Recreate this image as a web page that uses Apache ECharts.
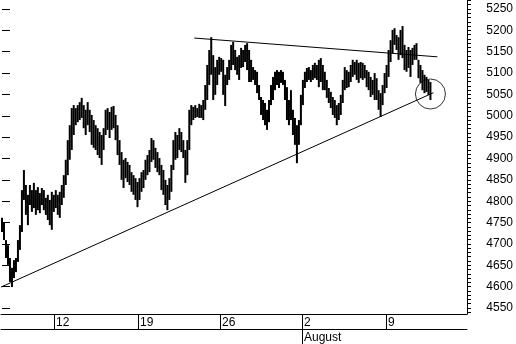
<!DOCTYPE html>
<html><head><meta charset="utf-8">
<script src="https://cdn.jsdelivr.net/npm/echarts@6/dist/echarts.min.js"></script>
<style>html,body{margin:0;padding:0;background:#fff}#c{width:516px;height:344px}</style>
</head><body><div id="c"></div>
<script>
// Price bars: high and low of each intraday period
const highs = [
4761,4751,4709,4697,4667,4644,4662,4667,4709,4744,
4826,4873,4838,4815,4838,4826,4843,4826,4833,4819,
4831,4826,4808,4815,4803,4822,4815,4826,4815,4822,
4838,4861,4897,4943,4978,5018,5025,5018,5025,5032,
5042,5025,5014,5032,5014,5002,4990,4978,4971,4962,
4955,4971,5014,5018,5009,5021,5023,5002,4978,4943,
4915,4897,4901,4892,4885,4868,4861,4854,4845,4854,
4868,4873,4897,4908,4920,4948,4943,4925,4915,4901,
4885,4873,4850,4838,4854,4885,4943,4962,4955,4971,
4962,4943,4920,4943,5014,5025,5021,5025,5018,5028,
5025,5037,5072,5119,5154,5184,5142,5114,5131,5138,
5135,5131,5096,5114,5131,5166,5173,5154,5138,5142,
5159,5154,5166,5170,5154,5131,5114,5107,5103,5072,
5044,5037,5030,5014,5037,5072,5091,5103,5107,5103,
5107,5103,5084,5067,5037,5060,5014,4995,4978,4990,
5049,5084,5103,5112,5114,5107,5119,5124,5119,5131,
5135,5119,5103,5084,5065,5056,5044,5037,5025,5030,
5049,5084,5114,5107,5103,5119,5131,5126,5131,5124,
5126,5124,5119,5107,5103,5091,5084,5100,5088,5060,
5053,5072,5100,5119,5154,5177,5201,5205,5189,5184,
5201,5210,5166,5154,5161,5154,5159,5166,5170,5131,
5119,5107,5096,5091,5084,5079
];
const lows = [
4728,4709,4667,4651,4611,4599,4620,4634,4658,4686,
4728,4803,4768,4744,4791,4775,4784,4768,4779,4772,
4791,4779,4768,4756,4744,4733,4775,4784,4768,4761,
4791,4808,4838,4861,4897,4920,4955,4978,4985,4990,
4995,4971,4955,4978,4962,4932,4925,4920,4908,4901,
4885,4920,4955,4967,4948,4967,4971,4943,4908,4885,
4850,4831,4854,4845,4838,4822,4815,4803,4786,4803,
4822,4831,4850,4861,4868,4892,4897,4878,4868,4861,
4826,4815,4791,4779,4803,4822,4873,4897,4901,4920,
4915,4901,4843,4861,4920,4978,4990,4995,4997,4995,
4995,4990,5014,5037,5072,5096,5037,5049,5072,5096,
5103,5049,5023,5072,5084,5107,5119,5107,5096,5084,
5112,5114,5126,5107,5079,5079,5084,5072,5053,5037,
5002,4990,4978,4967,4985,5025,5037,5060,5072,5065,
5077,5072,5037,4990,4978,4990,4955,4932,4889,4932,
4978,5025,5065,5079,5084,5079,5084,5088,5084,5067,
5079,5060,5060,5042,5030,5018,5002,4995,4978,4990,
5002,5030,5060,5065,5067,5079,5091,5096,5084,5077,
5088,5084,5088,5067,5060,5044,5049,5037,5037,5014,
4997,5025,5053,5065,5091,5126,5147,5166,5154,5131,
5142,5135,5107,5103,5112,5091,5119,5131,5131,5088,
5077,5060,5053,5056,5049,5037
];
const slotCount = 233;                       // time slots on the axis (incl. empty right margin)
const weekStartSlots = [26, 68, 109, 150, 192];
const weekLabels = ['12', '19', '26', '2', '9'];
const monthStartSlot = 150;
const monthLabel = 'August';
// trend lines [slot, price] and highlighted point
const lowerTrend = [[-0.5, 4599], [216.5, 5054]];
const upperTrend = [[96.5, 5182], [218.5, 5138]];
const circlePoint = [[215.0, 5051]];

const categories = Array.from({length: slotCount}, (_, i) => String(i));
const ranges = highs.map((h, i) => h - lows[i]);
const FONT = 'Liberation Sans, Arial, sans-serif';

const chart = echarts.init(document.getElementById('c'), null, {renderer: 'canvas'});
const gl = {left: 1, right: 49};
chart.setOption({
  animation: false,
  backgroundColor: '#fff',
  grid: [
    Object.assign({top: 0, bottom: 30}, gl),
    Object.assign({top: 0.457, bottom: 31.72}, gl),
    Object.assign({top: 9, bottom: 36}, gl)
  ],
  xAxis: [
    {
      gridIndex: 0, type: 'category', data: categories, position: 'bottom',
      axisLine: {show: true, lineStyle: {color: '#000', width: 1}},
      axisTick: {show: true, alignWithLabel: true, length: 15, lineStyle: {color: '#000'},
        interval: (idx) => weekStartSlots.indexOf(idx) >= 0},
      axisLabel: {show: true, interval: (idx) => weekStartSlots.indexOf(idx) >= 0,
        formatter: (v) => weekLabels[weekStartSlots.indexOf(+v)] || '',
        align: 'left', padding: [0, 0, 0, 2], margin: 3, fontSize: 12, color: '#000', fontFamily: FONT},
      splitLine: {show: false}
    },
    {
      gridIndex: 0, type: 'category', data: categories, position: 'bottom', offset: 15,
      axisLine: {show: true, lineStyle: {color: '#000', width: 1}},
      axisTick: {show: true, alignWithLabel: true, length: 15, lineStyle: {color: '#000'},
        interval: (idx) => idx === monthStartSlot},
      axisLabel: {show: true, interval: (idx) => idx === monthStartSlot,
        formatter: () => monthLabel,
        align: 'left', padding: [0, 0, 0, 2], margin: 3, fontSize: 12, color: '#000', fontFamily: FONT},
      splitLine: {show: false}
    },
    {gridIndex: 1, type: 'category', data: categories, show: false},
    {gridIndex: 2, type: 'category', data: categories, show: false},
    {gridIndex: 2, type: 'value', min: -0.5, max: slotCount - 0.5, show: false}
  ],
  yAxis: [
    {
      gridIndex: 0, type: 'value', position: 'right', min: 4535.97, max: 5271.07,
      axisLine: {show: true, lineStyle: {color: '#000', width: 1}},
      axisTick: {show: false}, axisLabel: {show: false}, splitLine: {show: false}
    },
    {
      gridIndex: 1, type: 'value', position: 'right', min: 4540, max: 5270, interval: 10,
      axisLine: {show: false}, axisTick: {show: true, length: 4, lineStyle: {color: '#000'}},
      axisLabel: {show: false}, splitLine: {show: false}
    },
    {
      gridIndex: 2, type: 'value', position: 'right', min: 4550, max: 5250, interval: 50,
      axisLine: {show: false}, axisTick: {show: true, length: 8, lineStyle: {color: '#000'}},
      axisLabel: {show: true, margin: 21, fontSize: 12, color: '#000', fontFamily: FONT, align: 'left',
        formatter: (v) => String(v)},
      splitLine: {show: false}
    }
  ],
  series: [
    {
      type: 'bar', xAxisIndex: 3, yAxisIndex: 2, data: lows, stack: 'range', barWidth: 2,
      itemStyle: {color: 'rgba(0,0,0,0)'}, silent: true
    },
    {
      type: 'bar', xAxisIndex: 3, yAxisIndex: 2, data: ranges, stack: 'range', barWidth: 2,
      itemStyle: {color: '#000'}
    },
    {
      type: 'line', xAxisIndex: 4, yAxisIndex: 2, data: lowerTrend, symbol: 'none',
      lineStyle: {color: '#000', width: 1}
    },
    {
      type: 'line', xAxisIndex: 4, yAxisIndex: 2, data: upperTrend, symbol: 'none',
      lineStyle: {color: '#000', width: 1}
    },
    {
      type: 'scatter', xAxisIndex: 4, yAxisIndex: 2, data: circlePoint, symbol: 'circle', symbolSize: 30,
      itemStyle: {color: 'rgba(0,0,0,0)', borderColor: '#000', borderWidth: 1}
    }
  ]
});
</script></body></html>
